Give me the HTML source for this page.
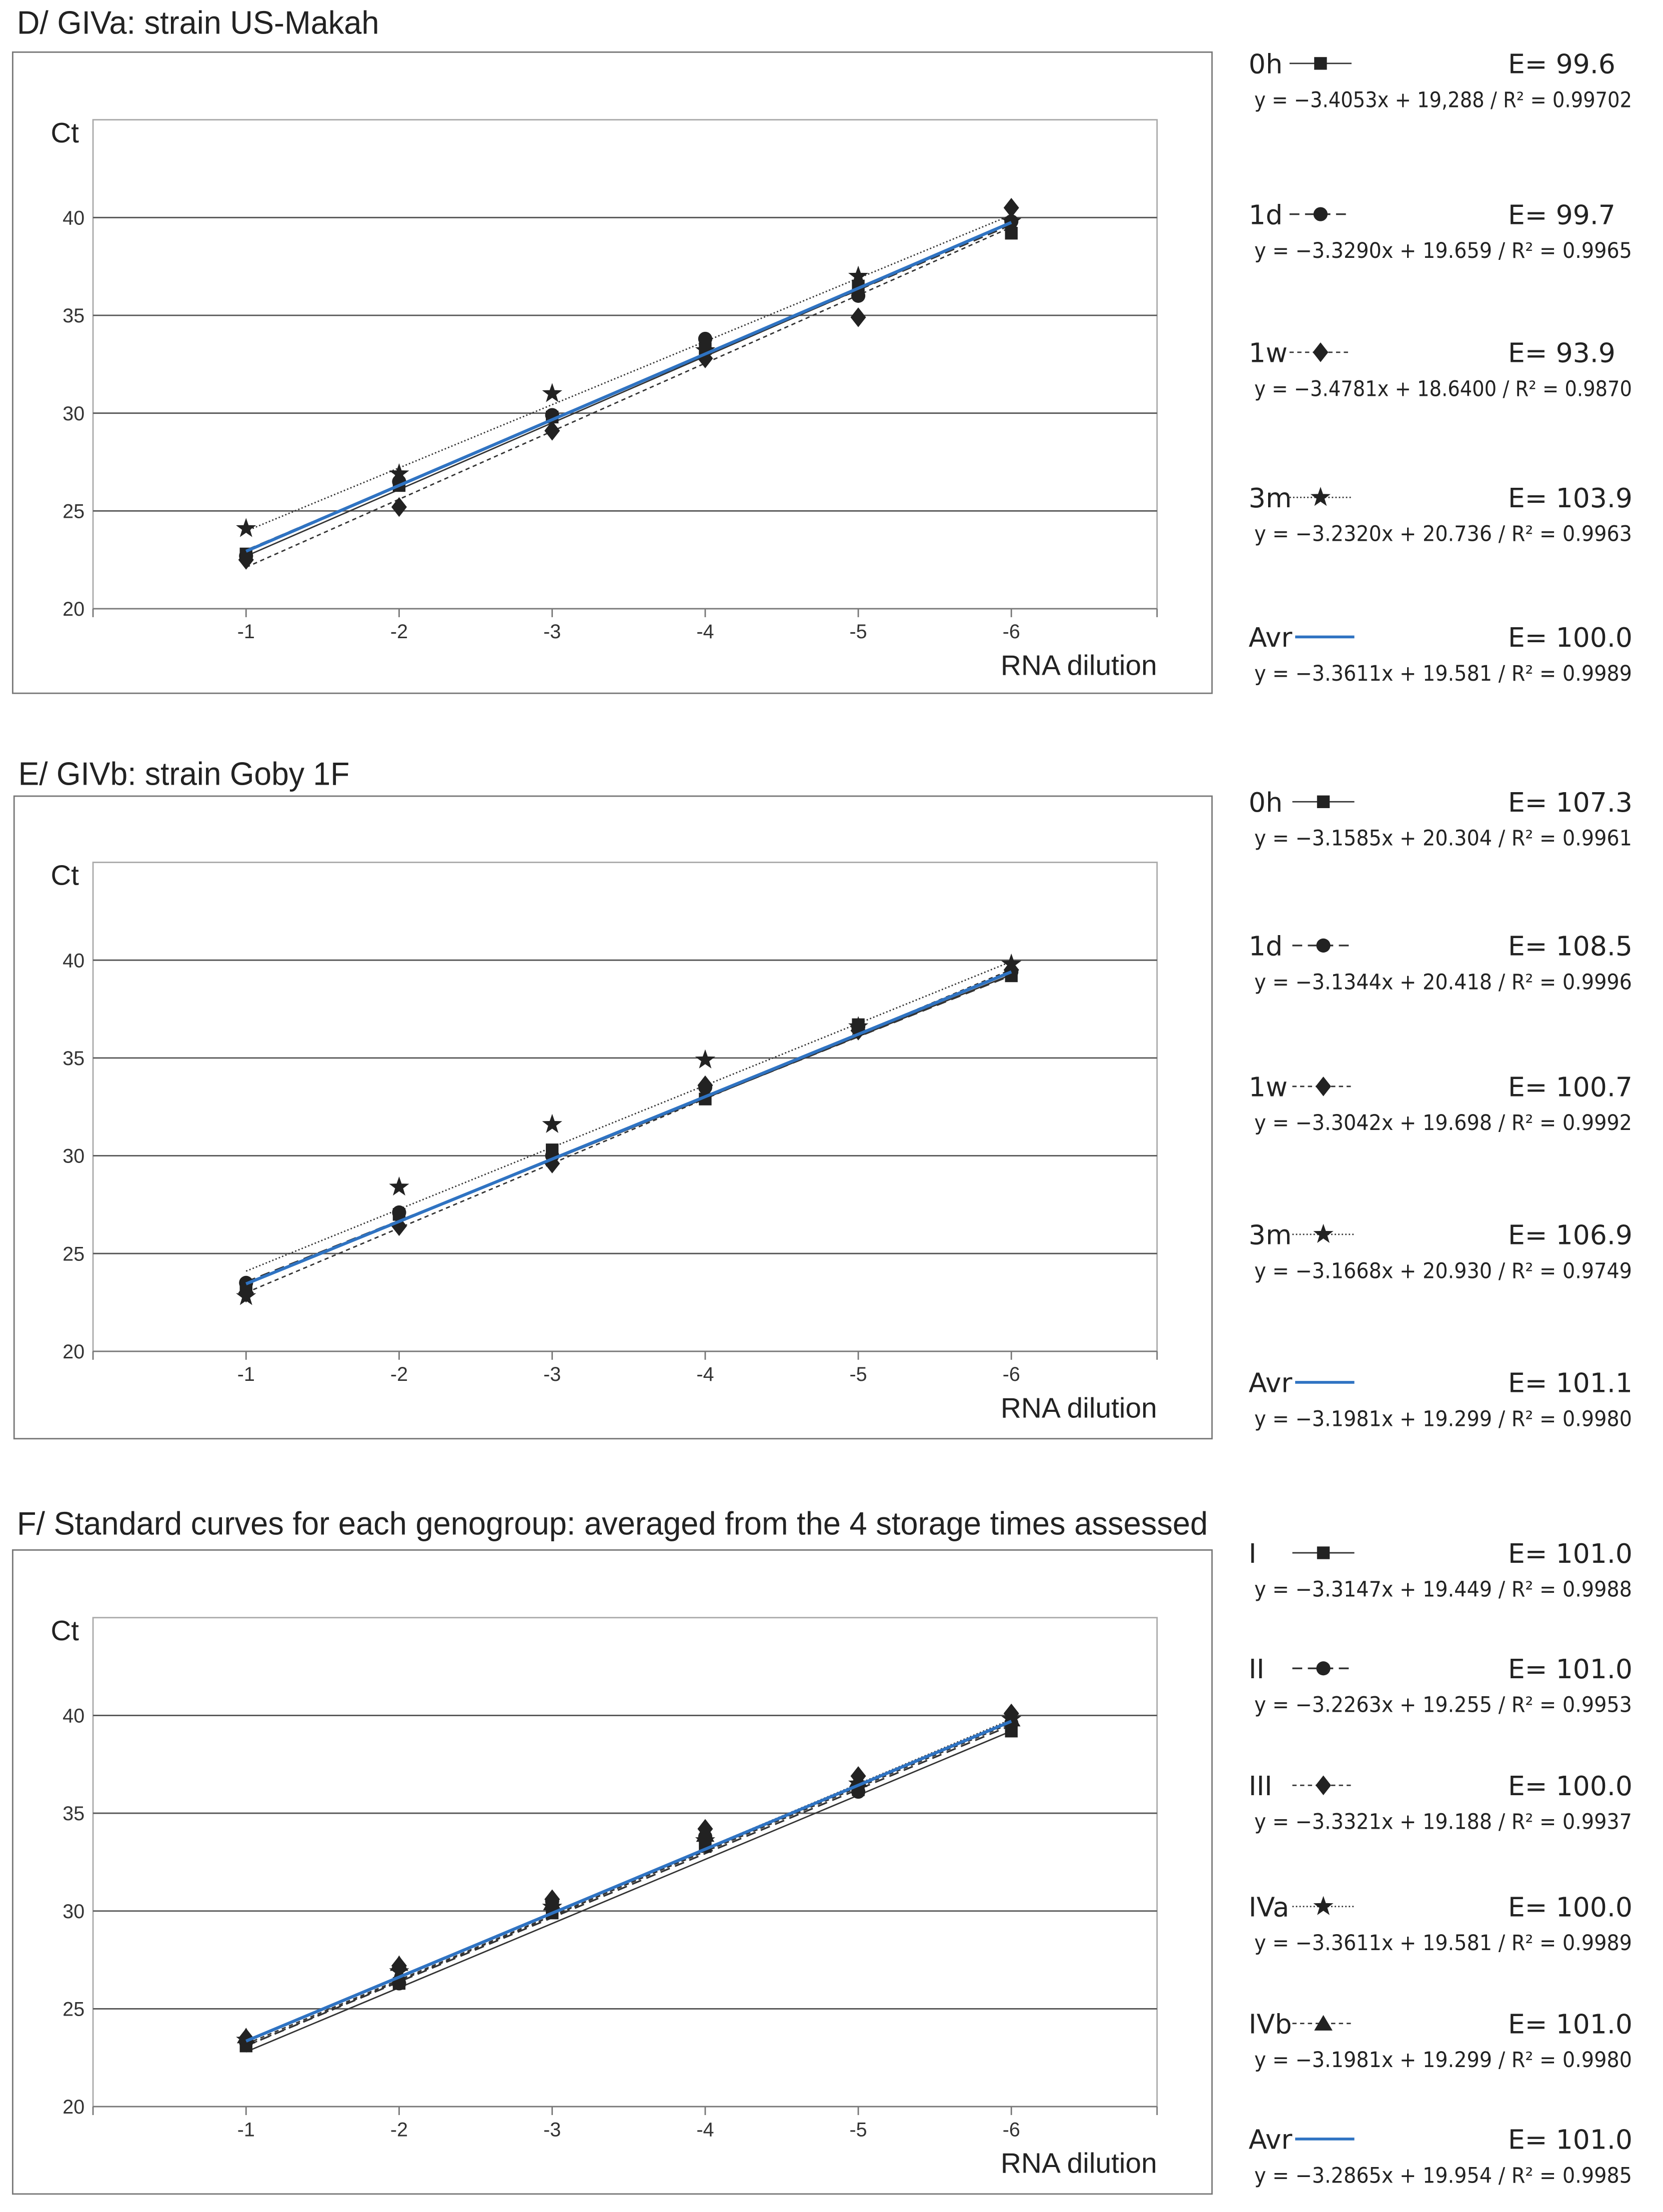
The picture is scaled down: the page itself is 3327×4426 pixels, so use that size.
<!DOCTYPE html>
<html><head><meta charset="utf-8">
<style>
html,body{margin:0;padding:0;background:#fff;}
svg{display:block;}
.ttl{font-family:"Liberation Sans Narrow","Liberation Sans",sans-serif;font-size:23px;fill:#222;}
.tick{font-family:"Liberation Sans Narrow","Liberation Sans",sans-serif;font-size:14px;fill:#333;}
.ax{font-family:"Liberation Sans Narrow","Liberation Sans",sans-serif;font-size:20px;fill:#222;}
.lg{font-family:"DejaVu Sans",sans-serif;font-size:19px;fill:#222;}
.eq{font-family:"DejaVu Sans",sans-serif;font-size:15px;fill:#222;}
</style></head>
<body>
<svg id="fig" xmlns="http://www.w3.org/2000/svg" width="3327" height="4426" viewBox="0 0 1180 1569.8" preserveAspectRatio="none"></svg>
<script>
// ---- data ----
const dilutions = [-1,-2,-3,-4,-5,-6];
const yTicks = [20,25,30,35,40];
const xTickLabels = ['-1','-2','-3','-4','-5','-6'];

// Panel D
const d0h = [22.8,26.3,29.8,33.3,36.5,39.2];
const d1d = [22.7,26.5,29.9,33.8,36.0,39.8];
const d1w = [22.5,25.2,29.1,32.8,34.9,40.5];
const d3m = [24.1,26.9,31.0,33.2,37.0,39.8];
const dFitStart = [22.69,22.99,22.12,23.97,22.94]; // trend value at -1 (0h,1d,1w,3m,Avr)
const dFitEnd = [39.72,39.63,39.51,40.13,39.75];   // trend value at -6
const dE = ['99.6','99.7','93.9','103.9','100.0'];
const dEq = ['y = \u22123.4053x + 19,288 / R\u00b2 = 0.99702','y = \u22123.3290x + 19.659 / R\u00b2 = 0.9965','y = \u22123.4781x + 18.6400  / R\u00b2 = 0.9870','y = \u22123.2320x + 20.736 / R\u00b2 = 0.9963','y = \u22123.3611x + 19.581 / R\u00b2 = 0.9989'];

// Panel E
const e0h = [23.3,27.0,30.3,32.9,36.7,39.2];
const e1d = [23.5,27.1,30.0,33.5,36.6,39.4];
const e1w = [23.0,26.4,29.6,33.6,36.4,39.5];
const e3m = [22.8,28.4,31.6,34.9,36.6,39.8];
const eFitStart = [23.46,23.55,23.0,24.10,23.45];
const eFitEnd = [39.26,39.22,39.52,39.93,39.4];
const eE = ['107.3','108.5','100.7','106.9','101.1'];
const eEq = ['y = \u22123.1585x + 20.304 / R\u00b2 = 0.9961','y = \u22123.1344x + 20.418 / R\u00b2 = 0.9996','y = \u22123.3042x + 19.698  / R\u00b2 = 0.9992','y = \u22123.1668x + 20.930 / R\u00b2 = 0.9749','y = \u22123.1981x + 19.299 / R\u00b2 = 0.9980'];

// Panel F
const fI = [23.1,26.3,29.9,33.3,36.2,39.2];
const fII = [23.3,26.3,30.5,33.8,36.1,39.6];
const fIII = [23.5,27.2,30.6,34.2,36.9,40.1];
const fIVa = [23.4,26.9,30.2,33.6,36.5,39.8];
const fIVb = [23.6,27.3,30.4,33.9,36.7,39.8];
const fFitStart = [22.8,23.1,23.1,23.3,23.2,23.35];
const fFitEnd = [39.2,39.5,39.7,39.8,39.6,39.7];
const fE = ['101.0','101.0','100.0','100.0','101.0','101.0'];
const fEq = ['y = \u22123.3147x + 19.449 / R\u00b2 = 0.9988','y = \u22123.2263x + 19.255 / R\u00b2 = 0.9953','y = \u22123.3321x + 19.188 / R\u00b2 = 0.9937','y = \u22123.3611x + 19.581 / R\u00b2 = 0.9989','y = \u22123.1981x + 19.299 / R\u00b2 = 0.9980','y = \u22123.2865x + 19.954 / R\u00b2 = 0.9985'];

// ---- drawing ----
const NS='http://www.w3.org/2000/svg';
const svg=document.getElementById('fig');
function mk(tag,attrs,parent){const e=document.createElementNS(NS,tag);for(const k in attrs)e.setAttribute(k,attrs[k]);(parent||svg).appendChild(e);return e;}
function txt(s,attrs,parent){const e=mk('text',attrs,parent);e.textContent=s;return e;}

const styles={
  solid:{dash:'',w:1},
  dash:{dash:'7,4',w:1.2},
  sdash:{dash:'3,2.5',w:1},
  dot:{dash:'1,1.5',w:1}
};
function marker(g,shape,cx,cy){
  let e;
  if(shape==='square') e=mk('rect',{x:cx-4.5,y:cy-4.5,width:9,height:9,fill:'#222'},g);
  else if(shape==='circle') e=mk('circle',{cx:cx,cy:cy,r:5,fill:'#222'},g);
  else if(shape==='diamond') e=mk('polygon',{points:`${cx},${cy-7} ${cx+5.5},${cy} ${cx},${cy+7} ${cx-5.5},${cy}`,fill:'#222'},g);
  else if(shape==='star'){let p=[];for(let i=0;i<10;i++){const r=i%2?3:7.5;const a=-Math.PI/2+i*Math.PI/5;p.push((cx+r*Math.cos(a)).toFixed(2)+','+(cy+r*Math.sin(a)).toFixed(2));}e=mk('polygon',{points:p.join(' '),fill:'#222'},g);}
  else if(shape==='triangle') e=mk('polygon',{points:`${cx},${cy-6} ${cx+6.5},${cy+5} ${cx-6.5},${cy+5}`,fill:'#222'},g);
  return e;
}

function panel(cfg){
  const g=mk('g',{});
  
  
  const t=txt(cfg.title,{x:cfg.box[0]+3,y:cfg.titleY,class:'ttl',textLength:cfg.titleLen,lengthAdjust:'spacingAndGlyphs'},g);
  
  
  const b=mk('rect',{x:cfg.box[0],y:cfg.box[1],width:cfg.box[2]-cfg.box[0],height:cfg.box[3]-cfg.box[1],fill:'none',stroke:'#777','stroke-width':1},g);
  
  
  const L=66,R=821,T=cfg.plotTop,B=cfg.plotTop+347;
  const ys=v=>B-(v-20)/25*(B-T);
  const xs=v=>L+(-v)*108.6;
  const pa=mk('rect',{x:L,y:T,width:R-L,height:B-T,fill:'none',stroke:'#aaa','stroke-width':1},g);
  
  
  yTicks.forEach(v=>{
    const l=mk('line',{x1:L,x2:R,y1:ys(v),y2:ys(v),stroke:v===20?'#777':'#555','stroke-width':1},g);
    
    
    const tl=txt(String(v),{x:L-6,y:ys(v)+5,'text-anchor':'end',class:'tick'},g);
    
    
  });
  dilutions.forEach((d,i)=>{
    mk('line',{x1:xs(d),x2:xs(d),y1:B,y2:B+6,stroke:'#777'},g);
    const tl=txt(xTickLabels[i],{x:xs(d),y:B+21,'text-anchor':'middle',class:'tick'},g);
    
    
  });
  mk('line',{x1:L,x2:L,y1:B,y2:B+6,stroke:'#777'},g);
  mk('line',{x1:R,x2:R,y1:B,y2:B+6,stroke:'#777'},g);
  const yt=txt('Ct',{x:36,y:T+16,class:'ax'},g);
  
  
  const xt=txt('RNA dilution',{x:R,y:B+47,'text-anchor':'end',class:'ax',textLength:111,lengthAdjust:'spacingAndGlyphs'},g);
  
  
  cfg.series.forEach((s,si)=>{
    const st=styles[s.style];
    const ln=mk('line',{x1:xs(-1),y1:ys(cfg.fitStart[si]),x2:xs(-6),y2:ys(cfg.fitEnd[si]),stroke:'#333','stroke-width':st.w,'stroke-dasharray':st.dash},g);
    
    
  });
  cfg.series.forEach(s=>{
    s.vals.forEach((v,i)=>{
      const m=marker(g,s.shape,xs(dilutions[i]),ys(v));
      
      
    });
  });
  const n=cfg.series.length;
  const av=mk('line',{x1:xs(-1),y1:ys(cfg.fitStart[n]),x2:xs(-6),y2:ys(cfg.fitEnd[n]),stroke:'#2f73c2','stroke-width':2.2},g);
  
  
  const names=cfg.series.map(s=>s.name).concat(['Avr']);
  names.forEach((nm,i)=>{
    const lg=mk('g',{},g);
    
    
    const y=cfg.legY[i];
    txt(nm,{x:886,y:y+7,class:'lg'},lg);
    const lx=cfg.legLineX;
    if(nm==='Avr'){
      mk('line',{x1:919,x2:961,y1:y,y2:y,stroke:'#2f73c2','stroke-width':2},lg);
    } else {
      const s=cfg.series[i];const st=styles[s.style];
      mk('line',{x1:lx,x2:lx+44,y1:y,y2:y,stroke:'#333','stroke-width':st.w,'stroke-dasharray':st.dash},lg);
      marker(lg,s.shape,lx+22,y);
    }
    txt('E= '+cfg.E[i],{x:1070,y:y+7,class:'lg'},lg);
    txt(cfg.eq[i],{x:890,y:y+31,class:'eq',textLength:cfg.eq[i].length>40?277:268,lengthAdjust:'spacingAndGlyphs'},lg);
  });
}

panel({id:'giva',title:'D/ GIVa: strain US-Makah',titleY:24,titleLen:257,box:[9,37,860,492],plotTop:85,
  series:[{name:'0h',vals:d0h,shape:'square',style:'solid'},
          {name:'1d',vals:d1d,shape:'circle',style:'dash'},
          {name:'1w',vals:d1w,shape:'diamond',style:'sdash'},
          {name:'3m',vals:d3m,shape:'star',style:'dot'}],
  fitStart:dFitStart,fitEnd:dFitEnd,legY:[45,152,250,353,452],legLineX:915,E:dE,eq:dEq});
panel({id:'givb',title:'E/ GIVb: strain Goby 1F',titleY:557,titleLen:235,box:[10,565,860,1021],plotTop:612,
  series:[{name:'0h',vals:e0h,shape:'square',style:'solid'},
          {name:'1d',vals:e1d,shape:'circle',style:'dash'},
          {name:'1w',vals:e1w,shape:'diamond',style:'sdash'},
          {name:'3m',vals:e3m,shape:'star',style:'dot'}],
  fitStart:eFitStart,fitEnd:eFitEnd,legY:[569,671,771,876,981],legLineX:917,E:eE,eq:eEq});
panel({id:'genogroups',title:'F/ Standard curves for each genogroup: averaged from the 4 storage times assessed',titleY:1089,titleLen:845,box:[9,1100,860,1557],plotTop:1148,
  series:[{name:'I',vals:fI,shape:'square',style:'solid'},
          {name:'II',vals:fII,shape:'circle',style:'dash'},
          {name:'III',vals:fIII,shape:'diamond',style:'sdash'},
          {name:'IVa',vals:fIVa,shape:'star',style:'dot'},
          {name:'IVb',vals:fIVb,shape:'triangle',style:'sdash'}],
  fitStart:fFitStart,fitEnd:fFitEnd,legY:[1102,1184,1267,1353,1436,1518],legLineX:917,E:fE,eq:fEq});
</script>
</body></html>
